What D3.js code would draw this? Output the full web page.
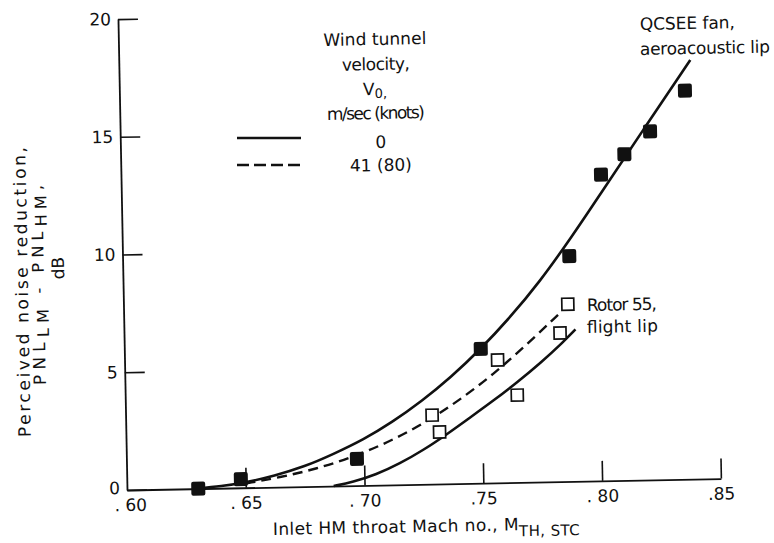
<!DOCTYPE html>
<html>
<head>
<meta charset="utf-8">
<script src="https://cdn.jsdelivr.net/npm/d3@7"></script>
<style>
  body { margin: 0; background: #fff; }
  text { font-family: "DejaVu Sans", "Liberation Sans", sans-serif; font-size: 17px; fill: #111; }
</style>
</head>
<body>
<script>
// x ticks / labels (inlet throat Mach number)
const xTicks = [0.60, 0.65, 0.70, 0.75, 0.80, 0.85];
const xTickLabels = [". 60", ". 65", ". 70", ".75", ". 80", ".85"];
const yTicks = [0, 5, 10, 15, 20];

// QCSEE fan, aeroacoustic lip (filled squares)
const fanMach = [0.630, 0.648, 0.697, 0.750, 0.788, 0.802, 0.812, 0.823, 0.838];
const fanPnl  = [0.0, 0.37, 1.13, 5.7, 9.57, 13.0, 13.85, 14.8, 16.5];

// Rotor 55, flight lip (open squares)
const rotorMach = [0.729, 0.732, 0.757, 0.765, 0.7835, 0.787];
const rotorPnl  = [2.93, 2.21, 5.22, 3.71, 6.31, 7.53];

// faired curves
const fanCurve = [[0.628, 0], [0.64, 0.08], [0.65, 0.22], [0.662, 0.48], [0.675, 0.85], [0.687, 1.35],
  [0.70, 1.95], [0.712, 2.65], [0.725, 3.55], [0.737, 4.5], [0.75, 5.7], [0.762, 6.95], [0.775, 8.45],
  [0.79, 10.5], [0.80, 11.95], [0.82, 14.85], [0.8405, 17.8]];
const rotorCurve0 = [[0.687, 0], [0.695, 0.15], [0.705, 0.45], [0.715, 0.9], [0.725, 1.45], [0.735, 2.1],
  [0.745, 2.8], [0.755, 3.5], [0.765, 4.25], [0.775, 5.05], [0.785, 5.95], [0.79, 6.45]];
const rotorCurve41 = [[0.65, 0.18], [0.665, 0.42], [0.68, 0.75], [0.695, 1.2], [0.71, 1.8], [0.725, 2.55],
  [0.74, 3.5], [0.755, 4.6], [0.77, 5.9], [0.784, 7.2]];

const width = 774, height = 543;
const origin = [127, 490];
const tilt = -1.1; // the scanned page is slightly rotated
const rad = tilt * Math.PI / 180;

// screen position in the reference -> local coords of the tilted group
function at(sx, sy) {
  const dx = sx - origin[0], dy = sy - origin[1];
  return [dx * Math.cos(rad) + dy * Math.sin(rad), -dx * Math.sin(rad) + dy * Math.cos(rad)];
}

const svg = d3.select("body").append("svg")
  .attr("width", width)
  .attr("height", height);

const g = svg.append("g")
  .attr("transform", `translate(${origin}) rotate(${tilt})`);

const x = d3.scaleLinear().domain([0.60, 0.85]).range([0, 594]);
const y = d3.scaleLinear().domain([0, 20]).range([0, -471]);

// axes
const xAxis = d3.axisBottom(x)
  .tickValues(xTicks)
  .tickFormat((d, i) => xTickLabels[i])
  .tickSizeInner(-20)
  .tickSizeOuter(0)
  .tickPadding(9);

const yAxis = d3.axisLeft(y)
  .tickValues(yTicks)
  .tickFormat(d3.format("d"))
  .tickSizeInner(-20)
  .tickSizeOuter(0)
  .tickPadding(7);

const gx = g.append("g").call(xAxis);
const gy = g.append("g").call(yAxis);

[gx, gy].forEach(a => {
  a.attr("font-family", null).attr("font-size", null);
  a.select(".domain").attr("stroke", "#111").attr("stroke-width", 1.8);
  a.selectAll(".tick line").attr("stroke", "#111").attr("stroke-width", 1.6);
  a.selectAll(".tick text").attr("fill", "#111");
});
gx.selectAll(".tick").filter(d => d === 0.60).select("line").remove();
gx.selectAll(".tick").filter(d => d === 0.60).select("text").attr("dx", 3);
gy.selectAll(".tick").filter(d => d === 0).select("text").attr("dy", "0.2em");

// curves
const line = d3.line()
  .x(d => x(d[0]))
  .y(d => y(d[1]))
  .curve(d3.curveBasis);

g.append("path").datum(fanCurve)
  .attr("d", line).attr("fill", "none").attr("stroke", "#111").attr("stroke-width", 2.6);
g.append("path").datum(rotorCurve0)
  .attr("d", line).attr("fill", "none").attr("stroke", "#111").attr("stroke-width", 2.6);
g.append("path").datum(rotorCurve41)
  .attr("d", line).attr("fill", "none").attr("stroke", "#111").attr("stroke-width", 2.4)
  .attr("stroke-dasharray", "10,6");

// markers
const fanData = fanMach.map((m, i) => ({ m, p: fanPnl[i] }));
const rotorData = rotorMach.map((m, i) => ({ m, p: rotorPnl[i] }));

g.selectAll("rect.fan")
  .data(fanData)
  .join("rect")
  .attr("class", "fan")
  .attr("x", d => x(d.m) - 7)
  .attr("y", d => y(d.p) - 7)
  .attr("width", 14)
  .attr("height", 14)
  .attr("rx", 2)
  .attr("fill", "#111");

g.selectAll("rect.rotor")
  .data(rotorData)
  .join("rect")
  .attr("class", "rotor")
  .attr("x", d => x(d.m) - 6)
  .attr("y", d => y(d.p) - 6)
  .attr("width", 12)
  .attr("height", 12)
  .attr("fill", "#fff")
  .attr("stroke", "#111")
  .attr("stroke-width", 1.7);

// legend
const legendRows = [
  { label: "0", dash: null, y: 138, ty: 148 },
  { label: "41 (80)", dash: "12,5", y: 165, ty: 171 }
];
legendRows.forEach(r => {
  const p1 = at(237, r.y), p2 = at(301, r.y);
  g.append("line")
    .attr("x1", p1[0]).attr("y1", p1[1])
    .attr("x2", p2[0]).attr("y2", p2[1])
    .attr("stroke", "#111").attr("stroke-width", 2.6)
    .attr("stroke-dasharray", r.dash);
  const t = at(381, r.ty);
  g.append("text").attr("x", t[0]).attr("y", t[1])
    .attr("text-anchor", "middle").text(r.label);
});

const legendTitle = [
  { s: "Wind tunnel", x: 375, y: 45, len: 103 },
  { s: "velocity,", x: 376, y: 70, len: 68 },
  { s: "m/sec (knots)", x: 376, y: 119, len: 98 }
];
legendTitle.forEach(r => {
  const p = at(r.x, r.y);
  g.append("text").attr("x", p[0]).attr("y", p[1])
    .attr("text-anchor", "middle")
    .attr("textLength", r.len).attr("lengthAdjust", "spacing")
    .text(r.s);
});
{
  const p = at(375, 95);
  const v = g.append("text").attr("x", p[0]).attr("y", p[1]).attr("text-anchor", "middle");
  v.append("tspan").text("V");
  v.append("tspan").attr("dy", 3).attr("font-size", 13).text("0,");
}

// annotations
const notes = [
  { s: "QCSEE fan,", x: 640, y: 30, len: 95 },
  { s: "aeroacoustic lip", x: 640, y: 55, len: 130 },
  { s: "Rotor 55,", x: 587, y: 311, len: 70 },
  { s: "flight lip", x: 587, y: 333, len: 71 }
];
notes.forEach(r => {
  const p = at(r.x, r.y);
  g.append("text").attr("x", p[0]).attr("y", p[1])
    .attr("textLength", r.len).attr("lengthAdjust", "spacing")
    .text(r.s);
});

// x axis title
{
  const p = at(273, 535);
  const t = g.append("text").attr("x", p[0]).attr("y", p[1]).attr("letter-spacing", 0.4);
  t.append("tspan").text("Inlet HM throat Mach no.,  M");
  t.append("tspan").attr("dy", 6).attr("font-size", 15).text("TH, STC");
}

// y axis title
function yTitle(sx, sy, len, size, parts) {
  const p = at(sx, sy);
  const t = g.append("text")
    .attr("transform", `translate(${p}) rotate(-90)`)
    .attr("text-anchor", "middle")
    .attr("font-size", size);
  if (len) t.attr("textLength", len).attr("lengthAdjust", "spacing");
  parts.forEach(([s, sub]) => {
    t.append("tspan")
      .attr("dy", sub === 1 ? 4 : sub === -1 ? -4 : null)
      .attr("font-size", sub ? 16 : null)
      .text(s);
  });
  return t;
}
yTitle(28, 292, 290, 19, [["Perceived noise reduction,", 0]]);
yTitle(44, 285, 200, 20, [["PNL", 0], ["LM", 1], [" - PNL", -1], ["HM", 1], [",", -1]]);
yTitle(64, 268, null, 19, [["dB", 0]]);
</script>
</body>
</html>
